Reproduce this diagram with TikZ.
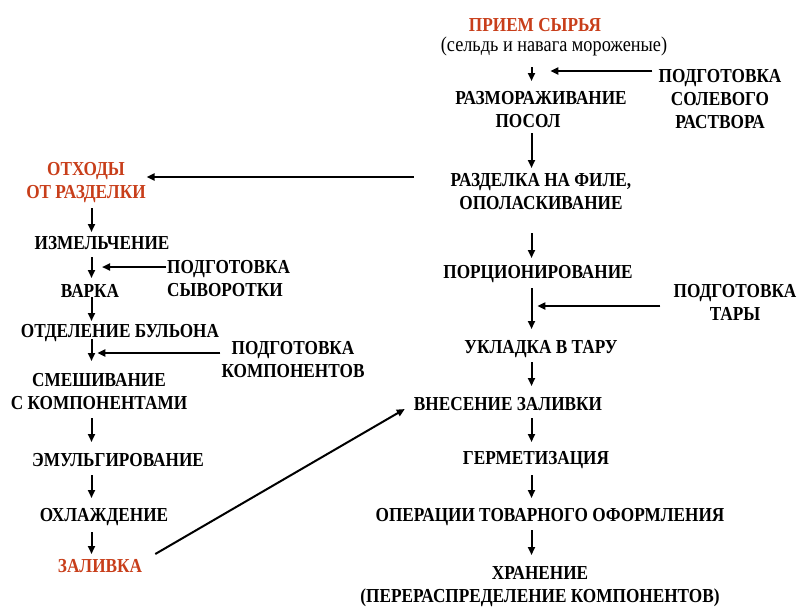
\documentclass[tikz,border=0pt]{standalone}
\usepackage{fontspec}
\setmainfont{Liberation Serif}[FakeStretch=0.87]
\usetikzlibrary{arrows.meta}
\definecolor{redtxt}{RGB}{200,62,26}
\tikzset{
  lbl/.style={font=\fontsize{19.8}{23}\selectfont\bfseries, align=center, inner sep=0pt},
  rlbl/.style={lbl, text=redtxt},
  plain/.style={font=\fontsize{21}{23}\selectfont, inner sep=0pt},
  arr/.style={line width=2pt, -{Triangle[length=8pt,width=7pt]}},
}
\begin{document}
\begin{tikzpicture}[x=1pt,y=-1pt]
\useasboundingbox (0,0) rectangle (798,606);
% right column
\node[rlbl] (priem) at (535,25) {ПРИЕМ СЫРЬЯ};
\node[plain] (selden) at (554,46) {(сельдь и навага мороженые)};
\node[lbl] (razm) at (541,110) {РАЗМОРАЖИВАНИЕ\\ПОСОЛ\hspace*{26pt}};
\node[lbl] (solev) at (720,99) {ПОДГОТОВКА\\СОЛЕВОГО\\РАСТВОРА};
\node[lbl] (razd) at (541,192) {РАЗДЕЛКА НА ФИЛЕ,\\ОПОЛАСКИВАНИЕ};
\node[lbl] (porc) at (538,274) {ПОРЦИОНИРОВАНИЕ};
\node[lbl] (tara) at (735,302) {ПОДГОТОВКА\\ТАРЫ};
\node[lbl] (ukl) at (541,349) {УКЛАДКА В ТАРУ};
\node[lbl] (vnes) at (508,404) {ВНЕСЕНИЕ ЗАЛИВКИ};
\node[lbl] (germ) at (536,460) {ГЕРМЕТИЗАЦИЯ};
\node[lbl] (oper) at (550,517) {ОПЕРАЦИИ ТОВАРНОГО ОФОРМЛЕНИЯ};
\node[lbl] (hran) at (540,587) {ХРАНЕНИЕ\\(ПЕРЕРАСПРЕДЕЛЕНИЕ КОМПОНЕНТОВ)};
% left column
\node[rlbl] (otx) at (86,183) {ОТХОДЫ\\ОТ РАЗДЕЛКИ};
\node[lbl] (izm) at (102,243) {ИЗМЕЛЬЧЕНИЕ};
\node[lbl, align=left, anchor=west] (syv) at (167,279) {ПОДГОТОВКА\\СЫВОРОТКИ};
\node[lbl] (vark) at (90,291) {ВАРКА};
\node[lbl] (otd) at (120,333) {ОТДЕЛЕНИЕ БУЛЬОНА};
\node[lbl] (komp) at (293,360) {ПОДГОТОВКА\\КОМПОНЕНТОВ};
\node[lbl] (smes) at (99,392) {СМЕШИВАНИЕ\\С КОМПОНЕНТАМИ};
\node[lbl] (emul) at (118,460) {ЭМУЛЬГИРОВАНИЕ};
\node[lbl] (ohl) at (104,517) {ОХЛАЖДЕНИЕ};
\node[rlbl] (zal) at (100,566) {ЗАЛИВКА};
% column axes
\coordinate (cR) at (531.5,0);
\coordinate (cL) at (91.5,0);
% right column arrows
\draw[arr] ([yshift=-21pt]selden.center -| cR) -- ([yshift=29pt]razm.center -| cR);
\draw[arr] ([yshift=-23pt]razm.center -| cR) -- ([yshift=24pt]razd.center -| cR);
\draw[arr] ([yshift=-41pt]razd.center -| cR) -- ([yshift=16pt]porc.center -| cR);
\draw[arr] ([yshift=-14pt]porc.center -| cR) -- ([yshift=20pt]ukl.center -| cR);
\draw[arr] ([yshift=-13pt]ukl.center -| cR) -- ([yshift=18pt]vnes.center -| cR);
\draw[arr] ([yshift=-14pt]vnes.center -| cR) -- ([yshift=18pt]germ.center -| cR);
\draw[arr] ([yshift=-15pt]germ.center -| cR) -- ([yshift=19pt]oper.center -| cR);
\draw[arr] ([yshift=-13pt]oper.center -| cR) -- ([yshift=32pt]hran.center -| cR);
% left column arrows
\draw[arr] ([yshift=-25pt]otx.center -| cL) -- ([yshift=11pt]izm.center -| cL);
\draw[arr] ([yshift=-14pt]izm.center -| cL) -- ([yshift=13pt]vark.center -| cL);
\draw[arr] ([yshift=-6pt]vark.center -| cL) -- ([yshift=12pt]otd.center -| cL);
\draw[arr] ([yshift=-6pt]otd.center -| cL) -- ([yshift=31pt]smes.center -| cL);
\draw[arr] ([yshift=-26pt]smes.center -| cL) -- ([yshift=18pt]emul.center -| cL);
\draw[arr] ([yshift=-15pt]emul.center -| cL) -- ([yshift=19pt]ohl.center -| cL);
\draw[arr] ([yshift=-15pt]ohl.center -| cL) -- ([yshift=12pt]zal.center -| cL);
% side feeds
\draw[arr] ([xshift=-6pt,yshift=28pt]solev.west) -- ++(-102,0);
\draw[arr] ([xshift=-37pt,yshift=15pt]razd.west) -- ++(-267,0);
\draw[arr] ([xshift=-13pt,yshift=-4pt]tara.west) -- ++(-123,0);
\draw[arr] ([xshift=-1pt,yshift=12pt]syv.west) -- ++(-64,0);
\draw[arr] ([xshift=-1pt,yshift=7pt]komp.west) -- ++(-123,0);
\draw[arr] ([xshift=13pt,yshift=12pt]zal.east) -- ([xshift=-9pt,yshift=-5pt]vnes.west);
\end{tikzpicture}
\end{document}
